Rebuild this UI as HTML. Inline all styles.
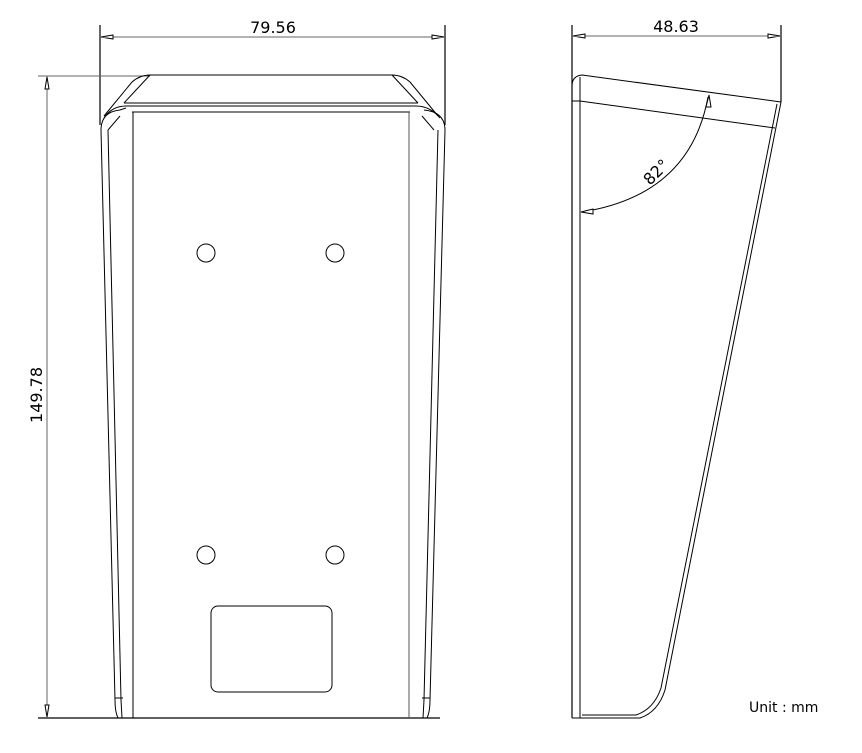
<!DOCTYPE html>
<html><head><style>body{margin:0;background:#fff}svg{display:block}</style></head><body>
<svg width="862" height="753" viewBox="0 0 862 753" xmlns="http://www.w3.org/2000/svg" font-family="'DejaVu Sans','Liberation Sans',sans-serif">
<g fill="none" stroke="#000" stroke-width="1">
<!-- front dims -->
<line x1="100" y1="25" x2="100" y2="125" stroke-width="1.2"/>
<line x1="445" y1="25" x2="445" y2="125" stroke-width="1.2"/>
<line x1="100" y1="37" x2="445" y2="37" stroke="#666"/>
<path d="M101 37 L113 35 L113 39 Z M444 37 L432 35 L432 39 Z" fill="#fff"/>
<line x1="38" y1="76" x2="150" y2="76" stroke="#666"/>
<line x1="38" y1="718" x2="440" y2="718" stroke-width="1.3"/>
<line x1="47" y1="76" x2="47" y2="718" stroke="#666"/>
<path d="M47 77 L45 89 L49 89 Z M47 717 L45 705 L49 705 Z" fill="#fff"/>
<!-- front top -->
<path d="M150 75 L392 75 Q402 75 410 82 L438 116"/>
<path d="M150 75 Q140 75 132 82 L104 116"/>
<path d="M150 75 L124 103 M392 75 L418 103"/>
<line x1="124" y1="103" x2="418" y2="103"/>
<path d="M104 118 Q112 106 126 106 L416 106 Q430 106 440 118"/>
<line x1="132" y1="112" x2="410" y2="112"/>
<path d="M101 130 Q101 112 120 110 L126 108 M445 130 Q445 112 424 110"/>
<path d="M108 130 L120 116 M434 130 L422 116"/>
<!-- body sides -->
<path d="M101 130 L115 700 Q115 712 118 718"/>
<path d="M108 130 L121 700 L122 718"/>
<path d="M445 130 L430 700 Q430 712 427 718"/>
<path d="M438 130 L424 700 L423 718"/>
<line x1="133" y1="112" x2="133" y2="718"/>
<line x1="409" y1="112" x2="409" y2="718" stroke="#555"/>
<line x1="115" y1="698" x2="123" y2="698"/>
<line x1="422" y1="698" x2="430" y2="698"/>
<circle cx="206" cy="253" r="9"/><circle cx="335" cy="253" r="9"/>
<circle cx="206" cy="555" r="9"/><circle cx="335" cy="555" r="9"/>
<rect x="211" y="606" width="121" height="86" rx="7"/>
<!-- side view dims -->
<line x1="572" y1="25" x2="572" y2="718" stroke-width="1.2"/>
<line x1="781" y1="25" x2="781" y2="102" stroke-width="1.2"/>
<line x1="572" y1="36" x2="781" y2="36" stroke="#666"/>
<path d="M573 36 L585 34 L585 38 Z M780 36 L768 34 L768 38 Z" fill="#fff"/>
<!-- side shape -->
<path d="M572 101 L572 86 Q572 76 582 75 L781 102"/>
<line x1="580" y1="77" x2="580" y2="718"/>
<path d="M572 101 L580 101 L775 128"/>
<path d="M781 102 L665 690 Q658 712 640 718 L572 718"/>
<path d="M777 104 L661 688 Q654 709 636 715 L582 715"/>
<!-- angle -->
<path d="M708 97 Q690 195 582 212"/>
<path d="M709 95 L706 107 L711 107 Z M581 212 L593 209 L593 214 Z" fill="#fff"/>
</g>
<g font-size="16" fill="#000">
<text x="273" y="33" text-anchor="middle">79.56</text>
<text x="676" y="32" text-anchor="middle">48.63</text>
<text transform="translate(42,395) rotate(-90)" text-anchor="middle">149.78</text>
<text transform="translate(660,176) rotate(-45)" text-anchor="middle">82°</text>
<text x="749" y="712" font-size="14">Unit : mm</text>
</g>
</svg>
</body></html>
